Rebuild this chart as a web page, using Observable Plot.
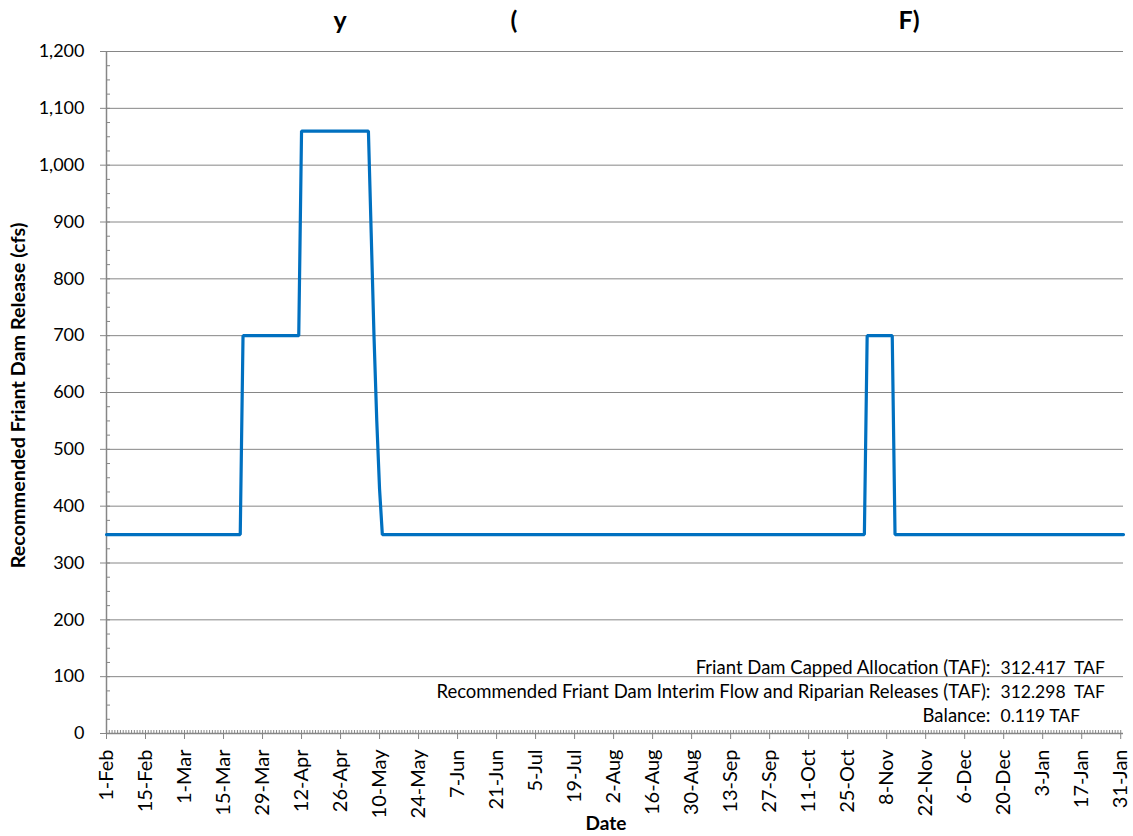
<!DOCTYPE html>
<html>
<head>
<meta charset="utf-8">
<script src="https://cdn.jsdelivr.net/npm/d3@7"></script>
<script src="https://cdn.jsdelivr.net/npm/@observablehq/plot@0.6"></script>
<style>
  body { margin: 0; background: #fff; }
  #chart { width: 1133px; height: 836px; }
</style>
</head>
<body>
<div id="chart"></div>
<script>
// ---- data ----
const flowDates = ["2011-02-01","2011-03-21","2011-03-22","2011-04-11","2011-04-12","2011-05-06","2011-05-07","2011-05-08","2011-05-09","2011-05-10","2011-05-11","2011-10-31","2011-11-01","2011-11-10","2011-11-11","2012-02-01"];
const flowCfs   = [350, 350, 700, 700, 1060, 1060, 880, 700, 550, 430, 350, 350, 700, 700, 350, 350];

const xTickLabels = ["1-Feb","15-Feb","1-Mar","15-Mar","29-Mar","12-Apr","26-Apr","10-May","24-May","7-Jun","21-Jun","5-Jul","19-Jul","2-Aug","16-Aug","30-Aug","13-Sep","27-Sep","11-Oct","25-Oct","8-Nov","22-Nov","6-Dec","20-Dec","3-Jan","17-Jan","31-Jan"];
const yTicks = [0, 100, 200, 300, 400, 500, 600, 700, 800, 900, 1000, 1100, 1200];
const yMinorStep = 25;

const titleGlyphs = ["y", "(", "F)"];
const annotLabels = ["Friant Dam Capped Allocation (TAF):", "Recommended Friant Dam Interim Flow and Riparian Releases (TAF):", "Balance:"];
const annotValues = ["312.417  TAF", "312.298  TAF", "0.119 TAF"];

const yTitle = "Recommended Friant Dam Release (cfs)";
const xTitle = "Date";

// ---- build ----
const startDate = new Date("2011-02-01");
const endDate = new Date("2012-02-01");
const data = flowDates.map((d, i) => ({date: new Date(d), cfs: flowCfs[i]}));
const parseTick = d3.utcParse("%d-%b-%Y");
const xTickDates = xTickLabels.map(l => parseTick(l + "-" + (l.endsWith("Jan") ? 2012 : 2011)));
const labelByTime = new Map(xTickDates.map((d, i) => [+d, xTickLabels[i]]));
const dailyTicks = d3.utcDay.range(startDate, endDate);
const yMinor = d3.range(0, 1200 + 1, yMinorStep);

const gray = "#868686";
const font = "Lato, 'Open Sans', sans-serif";

const titleDx = [227, 404, 792];
const annotDy = [-60, -36, -12];

const titleMarks = titleGlyphs.map((g, i) =>
  Plot.text([g], {text: d => d, frameAnchor: "top-left", dx: titleDx[i], dy: -40, fontWeight: "bold", fontSize: 25, fill: "#000", textAnchor: "start"}));
const annotMarks = annotLabels.flatMap((l, i) => [
  Plot.text([l], {text: d => d, frameAnchor: "bottom-right", dx: -133, dy: annotDy[i], textAnchor: "end", fontSize: 18.5, fill: "#000"}),
  Plot.text([annotValues[i]], {text: d => d, frameAnchor: "bottom-right", dx: -123, dy: annotDy[i], textAnchor: "start", fontSize: 17.5, fill: "#000"})
]);

const chart = Plot.plot({
  width: 1133,
  height: 836,
  marginTop: 51,
  marginBottom: 103,
  marginLeft: 106,
  marginRight: 10,
  style: {fontFamily: font, fontSize: "18px", color: "#000", background: "#fff", overflow: "visible"},
  x: {type: "utc", domain: [startDate, endDate]},
  y: {domain: [0, 1200]},
  marks: [
    Plot.gridY(yTicks.filter(d => d > 0), {stroke: gray, strokeOpacity: 1, strokeWidth: 1}),
    // minor ticks (inside)
    Plot.axisY({ticks: yMinor, tickSize: 4, dx: 4, tickFormat: () => "", label: null, stroke: gray, strokeOpacity: 1}),
    Plot.axisX({ticks: dailyTicks, tickSize: 3, dy: -3, tickFormat: () => "", label: null, stroke: gray, strokeOpacity: 1}),
    // major axes
    Plot.axisY({ticks: yTicks, tickSize: 6, tickPadding: 16, tickFormat: d3.format(","), label: null, stroke: gray, strokeOpacity: 1, fill: "#000", fontSize: 18}),
    Plot.axisX({ticks: xTickDates, tickSize: 6, tickPadding: 10, tickRotate: -90, tickFormat: d => labelByTime.get(+d), label: null, stroke: gray, strokeOpacity: 1, fill: "#000", fontSize: 20}),
    Plot.ruleX([startDate], {stroke: gray, strokeWidth: 1.5}),
    Plot.ruleY([0], {stroke: gray, strokeWidth: 1.5}),
    // data line
    Plot.line(data, {x: "date", y: "cfs", stroke: "#0070C0", strokeWidth: 3.2, strokeLinejoin: "miter"}),
    // axis titles
    Plot.text([yTitle], {text: d => d, frameAnchor: "left", dx: -88, dy: 3, rotate: -90, textAnchor: "middle", fontWeight: "bold", fontSize: 19.8, fill: "#000"}),
    Plot.text([xTitle], {text: d => d, frameAnchor: "bottom", dx: -9, dy: 96, textAnchor: "middle", fontWeight: "bold", fontSize: 19, fill: "#000"}),
    ...titleMarks,
    ...annotMarks
  ]
});
document.getElementById("chart").appendChild(chart);
</script>
</body>
</html>
